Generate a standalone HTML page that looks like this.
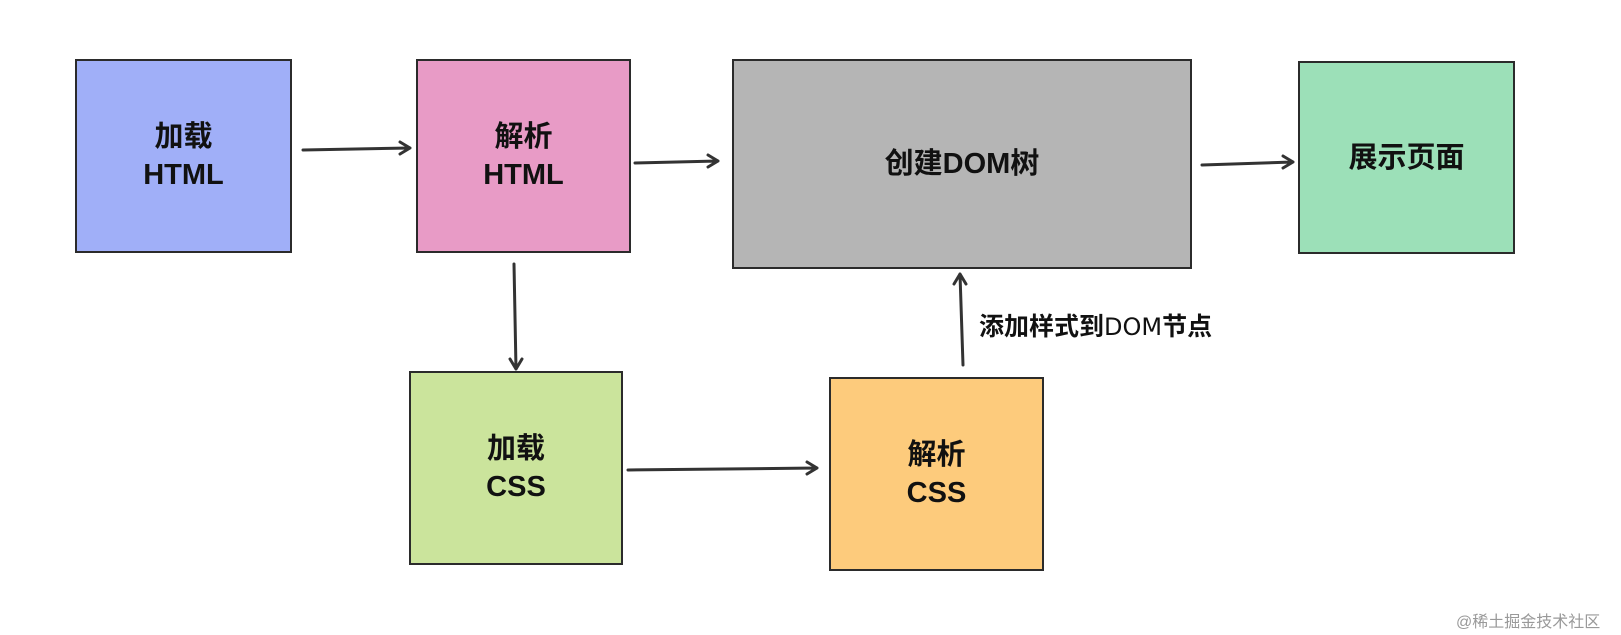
<!DOCTYPE html>
<html><head><meta charset="utf-8"><style>
body{margin:0;width:1621px;height:635px;background:#fff;position:relative;overflow:hidden;font-family:"Liberation Sans","Noto Sans CJK SC",sans-serif}
.b{position:absolute;border:2.5px solid #2b2b2b;box-sizing:border-box;display:flex;align-items:center;justify-content:center;text-align:center;font-weight:bold;font-size:29px;line-height:38px;color:#111}
svg{position:absolute;left:0;top:0}
</style></head><body>
<div class="b" style="left:75px;top:59px;width:217px;height:194px;background:#a0aff8">加载<br>HTML</div>
<div class="b" style="left:416px;top:59px;width:215px;height:194px;background:#e89bc6">解析<br>HTML</div>
<div class="b" style="left:732px;top:59px;width:460px;height:210px;background:#b5b5b5">创建DOM树</div>
<div class="b" style="left:1298px;top:61px;width:217px;height:193px;background:#9ce0b8">展示页面</div>
<div class="b" style="left:409px;top:371px;width:214px;height:194px;background:#cbe49c">加载<br>CSS</div>
<div class="b" style="left:829px;top:377px;width:215px;height:194px;background:#fdcb7c">解析<br>CSS</div>
<svg width="1621" height="635"><g stroke="#333" stroke-width="3" fill="none" stroke-linecap="round" stroke-linejoin="round">
<path d="M303 150L410 148M400 142L410 148L400 154"/>
<path d="M635 163L718 161M708 155L718 161L708 167"/>
<path d="M1202 165L1293 162M1283 156L1293 162L1283 168"/>
<path d="M514 264L516 369M510 359L516 369L522 359"/>
<path d="M628 470L817 468M807 462L817 468L807 474"/>
<path d="M963 365L960 274M954 284L960 274L966 284"/>
</g></svg>
<div style="position:absolute;left:979px;top:307px;font-size:25px;font-weight:bold;color:#111;white-space:nowrap">添加样式到<span style="font-weight:normal;font-family:'DejaVu Sans',sans-serif;font-size:24px">DOM</span>节点</div>
<div style="position:absolute;left:1456px;top:608px;font-size:16px;color:#999;white-space:nowrap">@稀土掘金技术社区</div>
</body></html>
